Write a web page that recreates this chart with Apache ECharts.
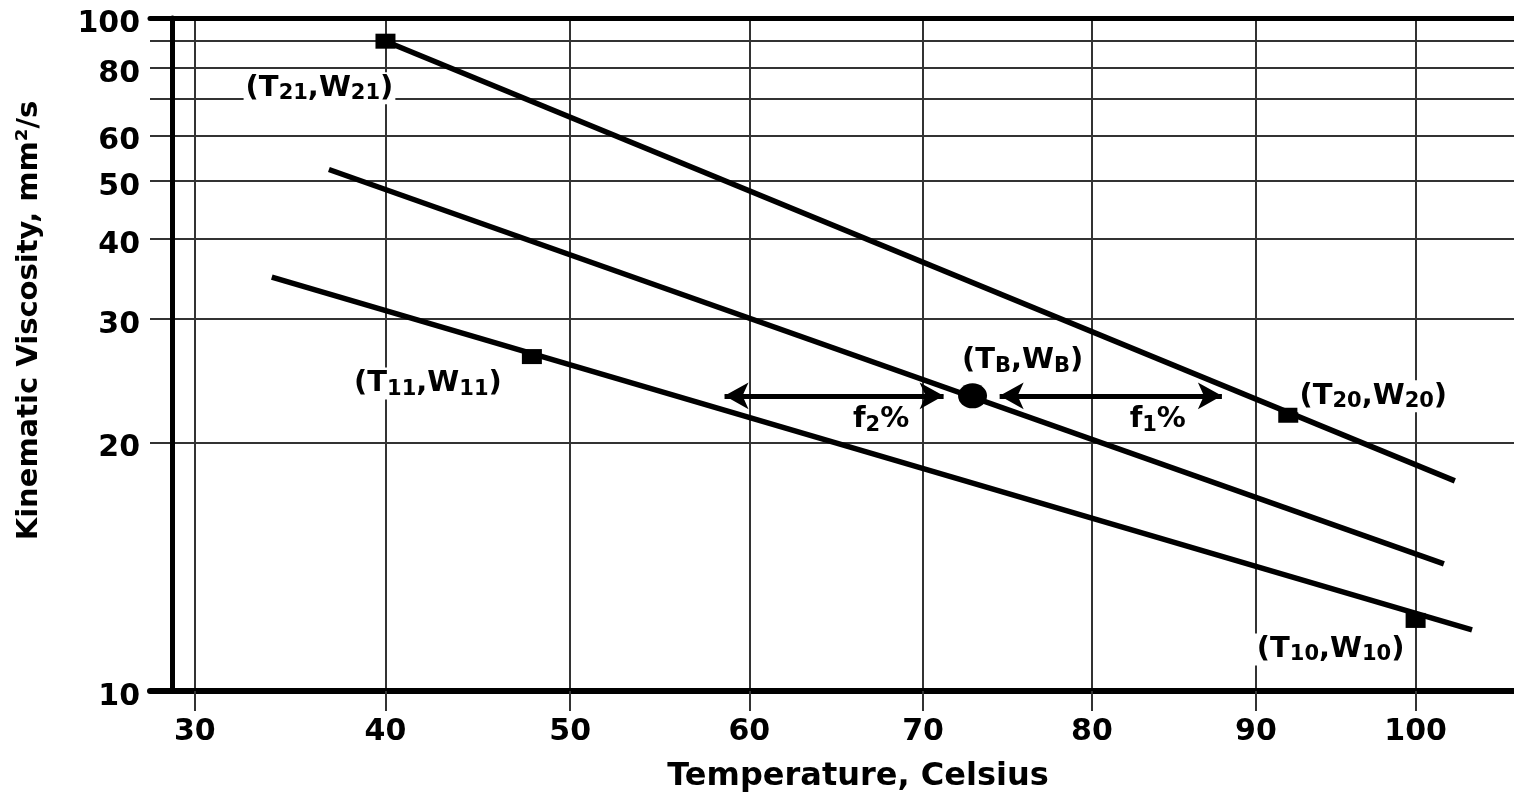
<!DOCTYPE html>
<html>
<head>
<meta charset="utf-8">
<script src="https://cdn.jsdelivr.net/npm/echarts@6/dist/echarts.min.js"></script>
<style>
  html, body { margin: 0; padding: 0; background: #fff; }
  #chart { width: 1514px; height: 798px; }
</style>
</head>
<body>
<div id="chart"></div>
<script>
// ASTM D341 style chart: x = log(T in K), y = log(log(v + 0.7))
const LT = t => Math.log10(t + 273.15);
const LL = v => Math.log10(Math.log10(v + 0.7));
const fromLT = x => Math.pow(10, x) - 273.15;
const fromLL = y => Math.pow(10, Math.pow(10, y)) - 0.7;

const tempRange = [27.7, 106.3];
const viscRange = [10, 100];
const tempTicks = [30, 40, 50, 60, 70, 80, 90, 100];
const viscGrid = [10, 20, 30, 40, 50, 60, 70, 80, 90, 100];
const viscLabels = [10, 20, 30, 40, 50, 60, 80, 100];

// straight lines, start and end points (T, W)
const upperT = [40, 102.5];
const upperW = [90, 17.8];
const middleT = [37, 101.8];
const middleW = [52.3, 14.0];
const lowerT = [34, 103.6];
const lowerW = [34.8, 11.7];

// marked points
const squareNames = ['21', '20', '11', '10'];
const squareT = [40, 92, 47.9, 100];
const squareW = [90, 21.8, 26.4, 12.0];
const blendT = [72.9];
const blendW = [23.2];

// arrows (T from, T to, W level)
const arrowNames = ['2', '1'];
const arrowFrom = [58.6, 74.5];
const arrowTo = [71.2, 87.9];
const arrowW = [23.2, 23.2];

const font = 'DejaVu Sans, Arial, sans-serif';
const ink = '#000';
const gridInk = '#333';

const subRich = {
  s: { fontSize: 21, fontWeight: 'bold', fontFamily: font, color: ink, padding: [11, 0, 0, 0] }
};
const labelBase = {
  show: true,
  color: ink,
  fontSize: 29,
  fontWeight: 'bold',
  fontFamily: font,
  backgroundColor: '#fff',
  padding: [0, 2],
  rich: subRich
};

const squareOffsets = [[-66, 47], [85, -19], [-104, 27], [-85, 29]];

function linePts(ts, ws) {
  return ts.map((t, i) => [LT(t), LL(ws[i])]);
}

const chart = echarts.init(document.getElementById('chart'));

chart.setOption({
  animation: false,
  grid: { left: 150, right: 0, top: 18, bottom: 105 },
  xAxis: [{
    type: 'value',
    min: LT(tempRange[0]),
    max: LT(tempRange[1]),
    name: 'Temperature, Celsius',
    nameLocation: 'middle',
    nameGap: 70,
    nameTextStyle: { color: ink, fontSize: 32, fontWeight: 'bold', fontFamily: font, padding: [0, 0, 0, 52] },
    axisLine: { show: true, lineStyle: { color: ink, width: 6 } },
    axisTick: { show: true, length: 20, customValues: tempTicks.map(LT), lineStyle: { color: gridInk, width: 2 } },
    axisLabel: {
      customValues: tempTicks.map(LT),
      formatter: v => String(Math.round(fromLT(v))),
      margin: 26, color: ink, fontSize: 30, fontWeight: 'bold', fontFamily: font
    },
    splitLine: { show: true, lineStyle: { color: gridInk, width: 2 } }
  }, {
    type: 'value',
    position: 'top',
    min: LT(tempRange[0]),
    max: LT(tempRange[1]),
    axisLine: { show: true, lineStyle: { color: ink, width: 5 } },
    axisTick: { show: false },
    axisLabel: { show: false },
    splitLine: { show: false }
  }],
  yAxis: {
    type: 'value',
    min: LL(viscRange[0]),
    max: LL(viscRange[1]),
    offset: -22,
    name: 'Kinematic Viscosity, mm²/s',
    nameLocation: 'middle',
    nameGap: 128,
    nameTextStyle: { color: ink, fontSize: 29, fontWeight: 'bold', fontFamily: font, padding: [0, 0, 0, 68] },
    axisLine: { show: true, lineStyle: { color: ink, width: 5 } },
    axisTick: { show: false, customValues: viscGrid.map(LL) },
    axisLabel: {
      customValues: viscLabels.map(LL),
      formatter: v => String(Math.round(fromLL(v))),
      margin: 32, verticalAlign: 'top', lineHeight: 12,
      color: ink, fontSize: 30, fontWeight: 'bold', fontFamily: font
    },
    splitLine: { show: true, lineStyle: { color: gridInk, width: 2 } }
  },
  series: [
    {
      type: 'line', data: linePts(upperT, upperW), symbol: 'none',
      lineStyle: { color: ink, width: 5.5 }, z: 3
    },
    {
      type: 'line', data: linePts(middleT, middleW), symbol: 'none',
      lineStyle: { color: ink, width: 5.5 }, z: 3
    },
    {
      type: 'line', data: linePts(lowerT, lowerW), symbol: 'none',
      lineStyle: { color: ink, width: 5.5 }, z: 3
    },
    {
      type: 'scatter',
      symbol: 'rect',
      symbolSize: [20, 15],
      itemStyle: { color: ink, opacity: 1 },
      z: 4,
      data: squareNames.map((n, i) => ({
        value: [LT(squareT[i]), LL(squareW[i])],
        label: Object.assign({}, labelBase, {
          position: 'inside',
          offset: squareOffsets[i],
          formatter: '(T{s|' + n + '},W{s|' + n + '})'
        })
      }))
    },
    {
      type: 'scatter',
      symbol: 'circle',
      symbolSize: [29, 25],
      itemStyle: { color: ink, opacity: 1 },
      z: 4,
      data: blendT.map((t, i) => ({
        value: [LT(t), LL(blendW[i])],
        label: Object.assign({}, labelBase, {
          position: 'inside',
          offset: [50, -35],
          formatter: '(T{s|B},W{s|B})'
        })
      }))
    },
    {
      type: 'line',
      data: [],
      markLine: {
        silent: true,
        symbol: ['arrow', 'arrow'],
        symbolSize: [20, 24],
        lineStyle: { color: ink, width: 5, type: 'solid', opacity: 1 },
        label: Object.assign({}, labelBase, { position: 'middle', distance: 0 }),
        data: arrowNames.map((n, i) => [
          {
            coord: [LT(arrowFrom[i]), LL(arrowW[i])],
            label: Object.assign({}, labelBase, {
              position: 'middle', offset: [47, 40],
              formatter: 'f{s|' + n + '}%'
            })
          },
          { coord: [LT(arrowTo[i]), LL(arrowW[i])] }
        ])
      }
    }
  ]
});
</script>
</body>
</html>
